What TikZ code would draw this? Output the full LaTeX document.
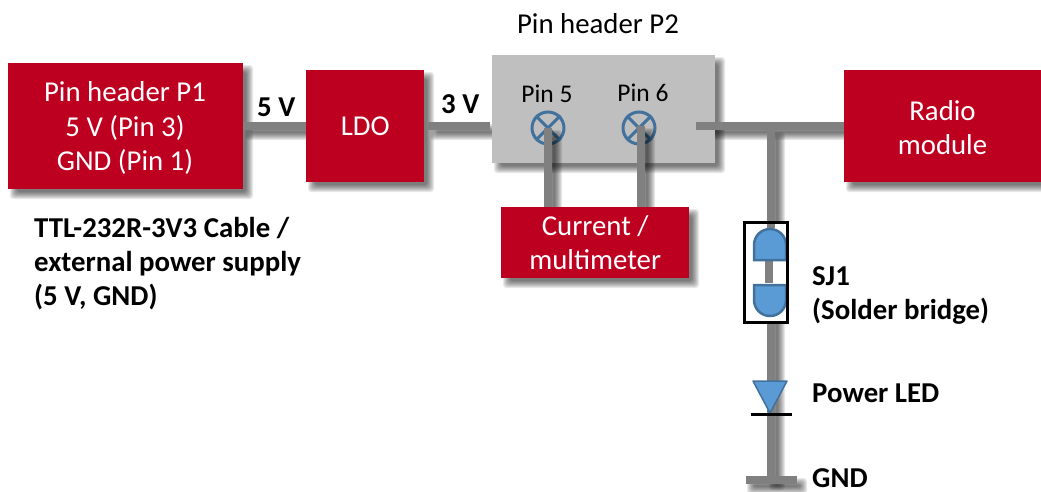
\documentclass[tikz,border=0pt]{standalone}
\usepackage{fontspec}
\setmainfont{Carlito}
\usetikzlibrary{calc}
\definecolor{tired}{HTML}{BE0020}
\definecolor{tigray}{HTML}{BFBFBF}
\definecolor{wiregray}{HTML}{808080}
\definecolor{pinblue}{HTML}{5B9BD5}
\definecolor{pinedge}{HTML}{41719C}
\newcommand{\softshadow}[4]{%
  \foreach \g in {0,1,...,7}{%
    \fill[black,opacity=0.085,rounded corners=3pt]
      ({#1+6-4+\g*1.0},{#2+6-4+\g*1.0}) rectangle ({#3+6+4-\g*1.0},{#4+6+4-\g*1.0});}}
\tikzset{
  x=1pt,y=-1pt,
  redbox/.style={fill=tired,text=white,font=\fontsize{28.8}{34.5}\selectfont,align=center,inner sep=0pt,anchor=north west},
  graybox/.style={fill=tigray,inner sep=0pt,anchor=north west},
  wire/.style={draw=wiregray,line width=8pt},
  lab/.style={font=\fontsize{28.8}{34}\selectfont\bfseries,align=left,anchor=west,inner sep=0pt,text=black},
  plain/.style={font=\fontsize{25.5}{30}\selectfont,inner sep=0pt,text=black},
  pinmark/.style={circle,minimum size=32pt,inner sep=0pt,draw=pinedge,line width=3pt},
  halfpad/.style={fill=pinblue,draw=pinedge,line width=2.5pt},
  diode/.style={fill=pinblue,draw=pinedge,line width=1.5pt,line join=round},
}
\begin{document}
\begin{tikzpicture}
\useasboundingbox (0,0) rectangle (1041,491);
% shadows
\softshadow{8}{63}{243}{189}
\softshadow{306}{70}{424}{182}
\softshadow{492}{55}{715}{163}
\softshadow{844}{70}{1041}{182}
\softshadow{501}{207}{689}{278}
\softshadow{243}{122}{306}{130}
\softshadow{428}{122}{490}{130}
\softshadow{696}{122}{844}{130}
\softshadow{767}{130}{775}{480}
\softshadow{745}{476}{797}{484}
% boxes
\node[redbox,minimum width=235pt,minimum height=126pt] (p1) at (8,63) {};
\node[redbox,minimum width=118pt,minimum height=112pt] (ldo) at (306,70) {LDO};
\node[graybox,minimum width=223pt,minimum height=108pt] (p2) at (492,55) {};
\node[redbox,minimum width=197pt,minimum height=112pt] (radio) at (844,70) {};
\node[font=\fontsize{28.8}{34.5}\selectfont,text=white,align=center,inner sep=0pt] (radiot) at (942.5,127.5) {Radio\\module};
% text of P1
\node[font=\fontsize{28.8}{34.5}\selectfont,text=white,align=center,inner sep=0pt] (p1t) at (125,128) {Pin header P1\\5 V (Pin 3)\\GND (Pin 1)};
% pins
\node[pinmark] (pin5) at (548,128) {};
\node[pinmark] (pin6) at (639,128) {};
\draw[pinedge,line width=3pt] (pin5.north west)--(pin5.south east) (pin5.north east)--(pin5.south west);
\draw[pinedge,line width=3pt] (pin6.north west)--(pin6.south east) (pin6.north east)--(pin6.south west);
\node[plain] (l5) at (547,94) {Pin 5};
\node[plain] (l6) at (643,93) {Pin 6};
\node[plain,font=\fontsize{28.8}{30}\selectfont] (lp2) at (598,24) {Pin header P2};
% connector coordinates
\coordinate (j) at (771,126);
\coordinate (p2out) at (696,126);
\coordinate (p2in) at (490,126);
\coordinate (ldoout) at (428,126);
\coordinate (tr5) at (548,128);
\coordinate (tr6) at (641,126);
\coordinate (gnd) at (771,480);
\coordinate (gl) at (746,480);
\coordinate (gr) at (797,480);
% wires
\softshadow{544}{128}{552}{207}
\softshadow{637}{126}{645}{207}
\draw[wire] (p1.east |- 0,126) -- (ldo.west |- 0,126);
\draw[wire] (ldoout) -- (p2in);
\draw[wire] (p2out) -- (radio.west |- 0,126);
\draw[wire] (j) -- (gnd);
\draw[wire] (gl) -- (gr);
\draw[wire] (tr5) -- (548,208);
\draw[wire] (tr6) -- (641,208);
% current box
\node[redbox,minimum width=188pt,minimum height=71pt] (cur) at (501,207) {Current /\\multimeter};
% solder jumper
\fill[white] (744,222) rectangle (787,322);
\draw[wire] (771,222) -- (771,228);
\draw[wire] (771,322) -- (771,336);
\draw[wire] (769,258) -- (769,283);
\draw[halfpad] (754,260) -- (754,245) arc[start angle=180,end angle=360,radius=16] -- (786,260) -- cycle;
\draw[halfpad] (754,285) -- (754,300) arc[start angle=180,end angle=0,radius=16] -- (786,285) -- cycle;
\draw[black,line width=3pt] (744,222) rectangle (787,322);
\node[lab] (sj) at (812,295.5) {SJ1\\(Solder bridge)};
% diode
\draw[diode] (753,381) -- (787,381) -- (770,413) -- cycle;
\draw[black,line width=3pt] (751,414.5) -- (792,414.5);
\node[lab] (led) at (812,393.5) {Power LED};
\node[lab] (gndl) at (812,478) {GND};
% labels
\node[lab] (v5) at (257,107) {5 V};
\node[lab] (v3) at (441,104) {3 V};
\node[lab] (ttl) at (34,264) {TTL-232R-3V3 Cable /\\external power supply\\(5 V, GND)};
\end{tikzpicture}
\end{document}
